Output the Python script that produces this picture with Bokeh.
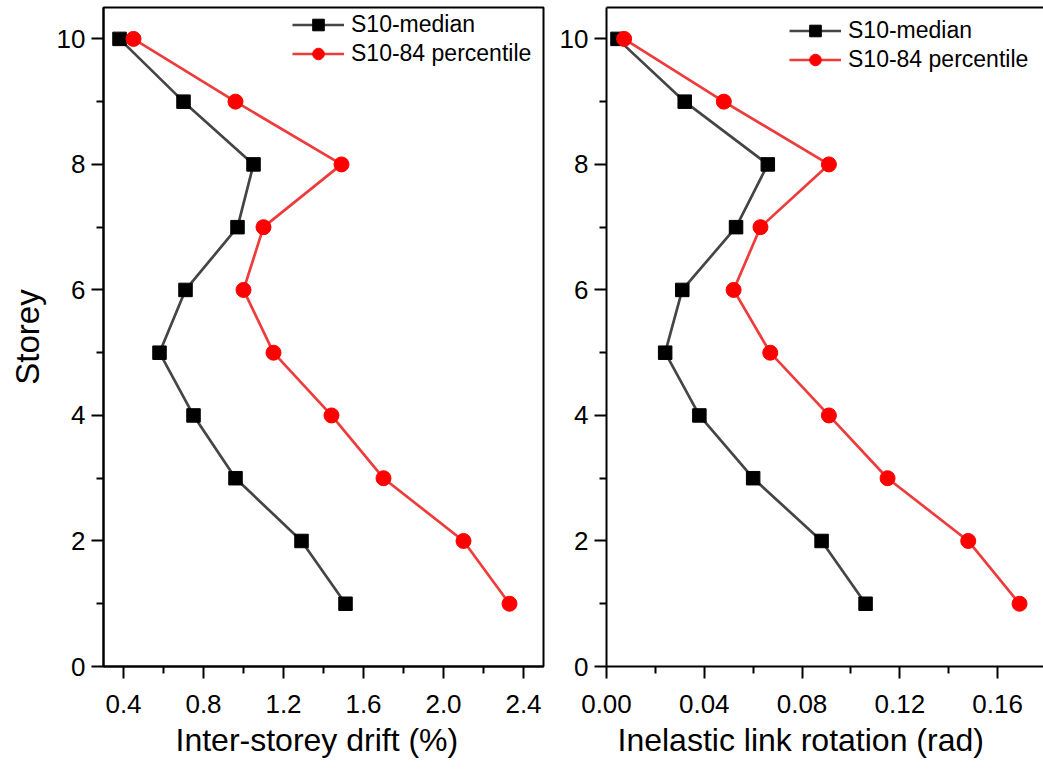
from bokeh.plotting import figure
from bokeh.layouts import row
from bokeh.models import (FixedTicker, PrintfTickFormatter, LinearAxis, Range1d,
                          Legend, LegendItem, Title)
from bokeh.embed import file_html
from bokeh.resources import INLINE

FONT = "Liberation Sans"

# Storey response of the S10 frame: median and 84th-percentile demands
storeys = [10, 9, 8, 7, 6, 5, 4, 3, 2, 1]
drift_median = [0.38, 0.70, 1.05, 0.97, 0.71, 0.58, 0.75, 0.96, 1.29, 1.51]
drift_p84 = [0.45, 0.96, 1.49, 1.10, 1.00, 1.15, 1.44, 1.70, 2.10, 2.33]
rotation_median = [0.0045, 0.032, 0.066, 0.053, 0.031, 0.024, 0.038, 0.060, 0.088, 0.106]
rotation_p84 = [0.0072, 0.048, 0.091, 0.063, 0.052, 0.067, 0.091, 0.115, 0.148, 0.169]

series_labels = ["S10-median", "S10-84 percentile"]

storey_ticks = [0, 2, 4, 6, 8, 10]
storey_minor = [1, 3, 5, 7, 9]
drift_ticks = [0.4, 0.8, 1.2, 1.6, 2.0, 2.4]
drift_minor = [0.6, 1.0, 1.4, 1.8, 2.2]
rotation_ticks = [0.0, 0.04, 0.08, 0.12, 0.16]
rotation_minor = [0.02, 0.06, 0.10, 0.14]

MEDIAN_LINE = "#454545"
MEDIAN_MARK = "#000000"
P84_LINE = "#ee3b3b"
P84_MARK = "#ff0000"


def style_axis(ax, ticks, minor, fmt):
    ax.ticker = FixedTicker(ticks=ticks, minor_ticks=minor)
    ax.formatter = PrintfTickFormatter(format=fmt)
    ax.axis_line_color = "black"
    ax.axis_line_width = 2
    ax.major_tick_line_color = "black"
    ax.minor_tick_line_color = "black"
    ax.major_tick_line_width = 2
    ax.minor_tick_line_width = 2
    ax.major_tick_in = 0
    ax.major_tick_out = 12
    ax.minor_tick_in = 0
    ax.minor_tick_out = 7
    ax.major_label_text_font = FONT
    ax.major_label_text_font_size = "26px"
    ax.major_label_text_color = "black"
    ax.axis_label_text_font = FONT
    ax.axis_label_text_font_size = "33px"
    ax.axis_label_text_font_style = "normal"
    ax.axis_label_text_color = "black"


def make_panel(width, border_left, border_right, x_end, x_start,
               median, p84, xticks, xminor, xfmt):
    p = figure(width=width, height=769,
               x_range=Range1d(x_start, x_end), y_range=Range1d(0, 10.5),
               output_backend="svg", toolbar_location=None,
               min_border_left=border_left, min_border_right=border_right,
               min_border_top=7, min_border_bottom=103,
               background_fill_color="white", border_fill_color="white")
    p.grid.visible = False
    style_axis(p.xaxis[0], xticks, xminor, xfmt)
    style_axis(p.yaxis[0], storey_ticks, storey_minor, "%d")
    p.xaxis[0].major_label_standoff = 16
    p.yaxis[0].major_label_standoff = 6

    l1 = p.line(median, storeys, line_color=MEDIAN_LINE, line_width=2.7)
    s1 = p.scatter(median, storeys, marker="square", size=13.5,
                   fill_color=MEDIAN_MARK, line_color=MEDIAN_MARK)
    l2 = p.line(p84, storeys, line_color=P84_LINE, line_width=2.7)
    s2 = p.scatter(p84, storeys, marker="circle", size=15,
                   fill_color=P84_MARK, line_color=P84_MARK)

    legend = Legend(items=[LegendItem(label=series_labels[0], renderers=[l1, s1]),
                           LegendItem(label=series_labels[1], renderers=[l2, s2])],
                    label_text_font=FONT, label_text_font_size="23px",
                    label_text_color="black",
                    glyph_width=52, glyph_height=29, label_height=29,
                    spacing=0, label_standoff=7, padding=0, margin=0,
                    border_line_color=None, background_fill_alpha=0)
    return p, legend


def x_title(text, offset):
    return Title(text=text, align="left", offset=offset, standoff=9,
                 text_font=FONT, text_font_size="32px",
                 text_font_style="normal", text_color="black")


# Left panel: inter-storey drift
p1, leg1 = make_panel(546, 103, 3, 2.5, 0.3, drift_median, drift_p84,
                      drift_ticks, drift_minor, "%.1f")
p1.outline_line_color = "black"
p1.outline_line_width = 2
p1.yaxis[0].axis_label = "Storey"
p1.yaxis[0].axis_label_standoff = 8
leg1.location = (189, 598)
p1.add_layout(leg1, "center")
p1.add_layout(x_title("Inter-storey drift (%)", 72), "below")

# Right panel: inelastic link rotation
p2, leg2 = make_panel(497, 60, 0, 0.1788, 0.0, rotation_median, rotation_p84,
                      rotation_ticks, rotation_minor, "%.2f")
p2.outline_line_color = None
top_axis = LinearAxis(ticker=FixedTicker(ticks=[]), axis_line_color="black",
                      axis_line_width=2, major_label_text_font_size="0px",
                      major_tick_out=0, minor_tick_out=0, major_label_standoff=0)
p2.add_layout(top_axis, "above")
leg2.location = (183, 592)
p2.add_layout(leg2, "center")
p2.add_layout(x_title("Inelastic link rotation (rad)", 11), "below")

layout = row(p1, p2)
open("out.html", "w").write(file_html(layout, INLINE))
